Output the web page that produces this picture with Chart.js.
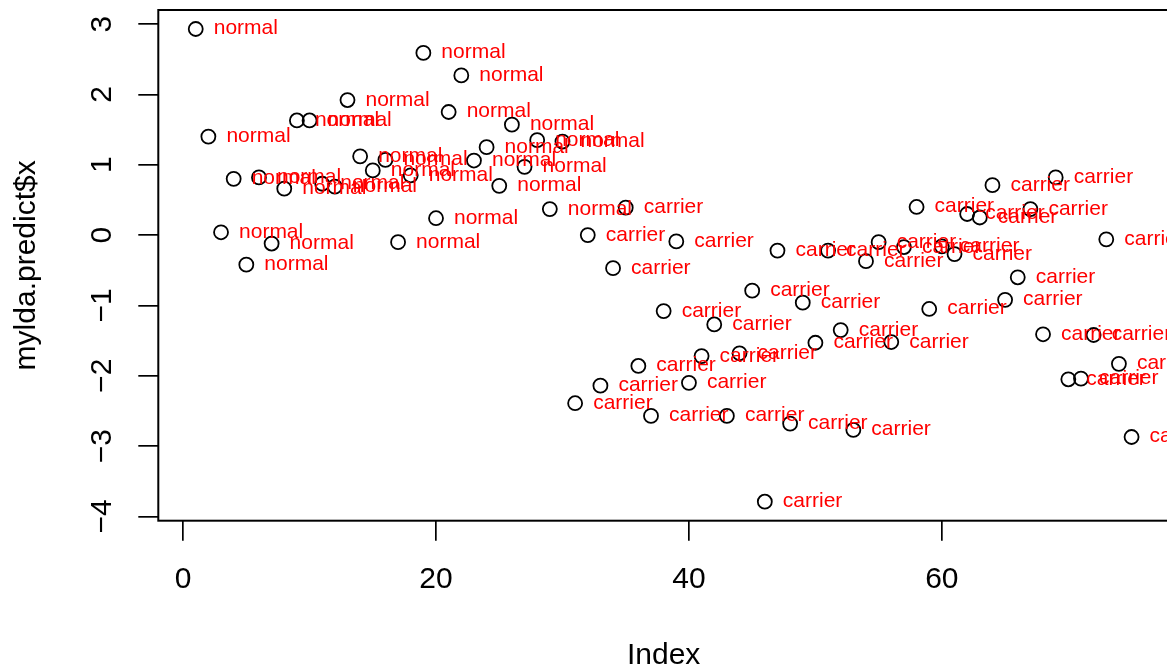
<html>
  <head>
    <style>
      body { margin: 0; overflow: hidden; background: #fff; }
      #wrap { width: 1190px; height: 670px; }
    </style>
  </head>
  <body>
    <div id="wrap">
    <canvas id="myChart" width="1190" height="670"></canvas>
    </div>
  </body>
</html>

<script src="https://cdn.jsdelivr.net/npm/chart.js"></script>
<script>
  // LDA scores, one per observation (index 1..75)
  let ldaScores = [
    2.93, 1.40, 0.04, 0.80, -0.42, 0.82, -0.12, 0.66, 1.63, 1.63,
    0.73, 0.69, 1.92, 1.12, 0.92, 1.07, -0.10, 0.85, 2.59, 0.24,
    1.75, 2.27, 1.06, 1.25, 0.70, 1.57, 0.97, 1.35, 0.37, 1.33,
    -2.39, 0.00, -2.14, -0.47, 0.39, -1.86, -2.57, -1.08, -0.09, -2.10,
    -1.72, -1.27, -2.57, -1.68, -0.79, -3.79, -0.22, -2.68, -0.96, -1.53,
    -0.22, -1.35, -2.77, -0.37, -0.10, -1.52, -0.17, 0.40, -1.05, -0.16,
    -0.27, 0.30, 0.25, 0.71, -0.92, -0.60, 0.37, -1.41, 0.82, -2.05,
    -2.04, -1.42, -0.06, -1.83, -2.87
  ];

  // class of each observation, written next to its point
  let groups = [
    'normal','normal','normal','normal','normal','normal','normal','normal','normal','normal',
    'normal','normal','normal','normal','normal','normal','normal','normal','normal','normal',
    'normal','normal','normal','normal','normal','normal','normal','normal','normal','normal',
    'carrier','carrier','carrier','carrier','carrier','carrier','carrier','carrier','carrier','carrier',
    'carrier','carrier','carrier','carrier','carrier','carrier','carrier','carrier','carrier','carrier',
    'carrier','carrier','carrier','carrier','carrier','carrier','carrier','carrier','carrier','carrier',
    'carrier','carrier','carrier','carrier','carrier','carrier','carrier','carrier','carrier','carrier',
    'carrier','carrier','carrier','carrier','carrier'
  ];

  let xTicks = [0, 20, 40, 60];
  let yTicks = [-4, -3, -2, -1, 0, 1, 2, 3];

  let FONT = 'Liberation Sans';

  // box round the plot region, like R's box()
  let boxPlugin = {
    id: 'box',
    afterDraw(chart) {
      let a = chart.chartArea;
      let ctx = chart.ctx;
      ctx.save();
      ctx.strokeStyle = '#000';
      ctx.lineWidth = 2;
      ctx.strokeRect(a.left, a.top, a.right - a.left, a.bottom - a.top);
      ctx.restore();
    }
  };

  // red text to the right of each point (text(..., pos=4))
  let labelPlugin = {
    id: 'pointLabels',
    afterDatasetsDraw(chart) {
      let ctx = chart.ctx;
      let pts = chart.getDatasetMeta(0).data;
      ctx.save();
      ctx.fillStyle = '#ff0000';
      ctx.font = '21px "' + FONT + '"';
      ctx.textAlign = 'left';
      ctx.textBaseline = 'alphabetic';
      pts.forEach(function(p, i){
        ctx.fillText(groups[i], p.x + 18, p.y + 5.5);
      });
      ctx.restore();
    }
  };

  let data = {
    datasets: [{
      data: ldaScores.map(function(v, i){ return {x: i + 1, y: v}; }),
      showLine: false,
      pointStyle: 'circle',
      pointRadius: 7,
      pointHoverRadius: 7,
      pointBorderWidth: 1.8,
      pointBorderColor: '#000',
      pointBackgroundColor: 'rgba(0,0,0,0)'
    }]
  };

  let config = {
    type: 'scatter',
    data: data,
    options: {
      responsive: false,
      animation: false,
      events: [],
      layout: { padding: { left: 0, top: 10, right: 21, bottom: 0 } },
      plugins: { legend: { display: false }, tooltip: { enabled: false } },
      scales: {
        x: {
          type: 'linear',
          min: -1.96,
          max: 77.96,
          afterBuildTicks: function(s){ s.ticks = xTicks.map(function(v){ return {value: v}; }); },
          afterFit: function(s){ s.height = 149.3; s.paddingLeft = 0; s.paddingRight = 0; },
          border: { display: false },
          grid: { drawOnChartArea: false, drawTicks: true, tickLength: 20, color: '#000', lineWidth: 1.7 },
          ticks: {
            padding: 21,
            color: '#000',
            font: { family: FONT, size: 30 },
            maxRotation: 0,
            callback: function(v){ return String(v); }
          },
          title: {
            display: true,
            text: 'Index',
            color: '#000',
            font: { family: FONT, size: 30 },
            padding: { top: 0, bottom: -4 }
          }
        },
        y: {
          type: 'linear',
          min: -4.06,
          max: 3.2,
          afterBuildTicks: function(s){ s.ticks = yTicks.map(function(v){ return {value: v}; }); },
          afterFit: function(s){ s.width = 158.3; s.paddingTop = 0; s.paddingBottom = 0; },
          border: { display: false },
          grid: { drawOnChartArea: false, drawTicks: true, tickLength: 20, color: '#000', lineWidth: 1.7 },
          ticks: {
            padding: 18.5,
            color: '#000',
            crossAlign: 'center',
            minRotation: 90,
            maxRotation: 90,
            font: { family: FONT, size: 30 },
            callback: function(v){ return v < 0 ? '\u2212' + Math.abs(v) : String(v); }
          },
          title: {
            display: true,
            text: 'mylda.predict$x',
            color: '#000',
            font: { family: FONT, size: 30 },
            padding: { top: 9, bottom: 0 }
          }
        }
      }
    },
    plugins: [labelPlugin, boxPlugin]
  };

  let myChart = new Chart(document.getElementById('myChart'), config);
</script>
